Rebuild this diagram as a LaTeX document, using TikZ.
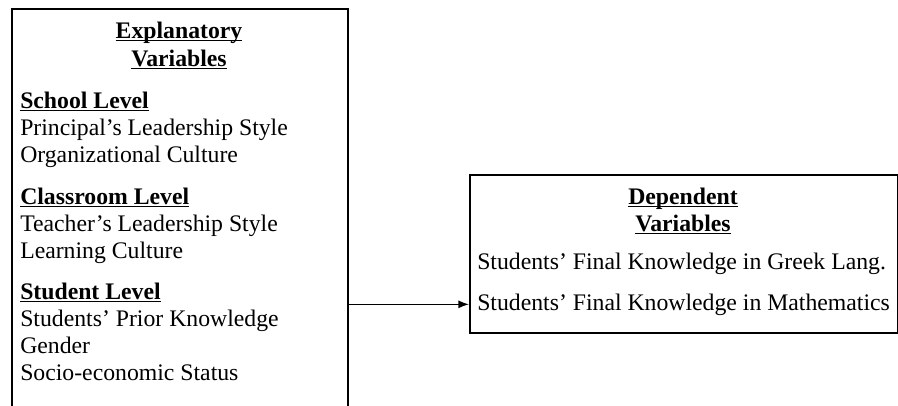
\documentclass[tikz,border=0pt]{standalone}
\usepackage{fontspec}
\setmainfont{Liberation Serif}
\usetikzlibrary{arrows.meta}
\newcommand{\ulin}[1]{\leavevmode\setbox0\hbox{#1}\rlap{\rule[-2.4pt]{\wd0}{1.1pt}}\box0}
\tikzset{
	varbox/.style={draw, line width=1.4pt, rectangle, inner sep=0pt, anchor=north west},
	vartext/.style={inner sep=0pt, font=\fontsize{17.8pt}{21pt}\selectfont},
}
\begin{document}
\begin{tikzpicture}[x=0.75pt,y=-0.75pt]
	\useasboundingbox (0,0) rectangle (898,405);
	\clip (0,0) rectangle (898,405);
	% the two boxes
	\node[varbox, minimum width=252pt, minimum height=330pt] (expl) at (11,8) {};
	\node[varbox, minimum width=321pt, minimum height=118.5pt] (dep) at (469,174) {};
	% explanatory side
	\node[vartext, anchor=base] (et1) at (179,38) {\ulin{\textbf{Explanatory}}};
	\node[vartext, anchor=base] (et2) at (179,66) {\ulin{\textbf{Variables}}};
	\node[vartext, anchor=base west] (sch) at (20,108) {\ulin{\textbf{School Level}}};
	\node[vartext, anchor=base west] (sch1) at (20,135) {Principal’s Leadership Style};
	\node[vartext, anchor=base west] (sch2) at (20,162) {Organizational Culture};
	\node[vartext, anchor=base west] (cls) at (20,204) {\ulin{\textbf{Classroom Level}}};
	\node[vartext, anchor=base west] (cls1) at (20,231) {Teacher’s Leadership Style};
	\node[vartext, anchor=base west] (cls2) at (20,258) {Learning Culture};
	\node[vartext, anchor=base west] (stu) at (20,299) {\ulin{\textbf{Student Level}}};
	\node[vartext, anchor=base west] (stu1) at (20,326) {Students’ Prior Knowledge};
	\node[vartext, anchor=base west] (stu2) at (20,353) {Gender};
	\node[vartext, anchor=base west] (stu3) at (20,380) {Socio-economic Status};
	% dependent side
	\node[vartext, anchor=base] (dt1) at (683,204) {\ulin{\textbf{Dependent}}};
	\node[vartext, anchor=base] (dt2) at (683,231) {\ulin{\textbf{Variables}}};
	\node[vartext, anchor=base west] (dgreek) at (477,269) {Students’ Final Knowledge in Greek Lang.};
	\node[vartext, anchor=base west] (dmath) at (477,310) {Students’ Final Knowledge in Mathematics};
	\draw[line width=1pt, -{Latex[length=8pt,width=6pt]}] (expl.east |- dmath.west) -- (dep.west |- dmath.west);
\end{tikzpicture}
\end{document}
